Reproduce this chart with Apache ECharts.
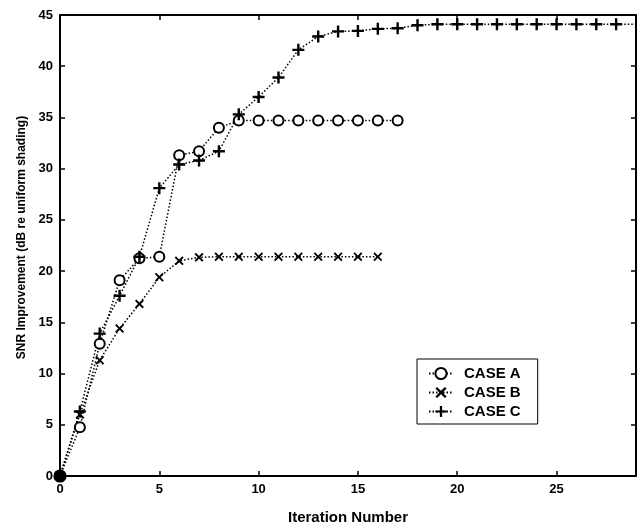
<!DOCTYPE html>
<html>
<head>
<meta charset="utf-8">
<script src="https://cdn.jsdelivr.net/npm/echarts@6/dist/echarts.min.js"></script>
<style>html,body{margin:0;padding:0;background:#fff}#c{width:640px;height:532px}</style>
</head>
<body>
<div id="c"></div>
<script>
var xTicks = [0, 5, 10, 15, 20, 25];
var yTicks = [0, 5, 10, 15, 20, 25, 30, 35, 40, 45];
var caseAIter = [0,1,2,3,4,5,6,7,8,9,10,11,12,13,14,15,16,17];
var caseA = [0, 4.75, 12.9, 19.1, 21.25, 21.4, 31.3, 31.7, 34.0, 34.7, 34.7, 34.7, 34.7, 34.7, 34.7, 34.7, 34.7, 34.7];
var caseBIter = [0,1,2,3,4,5,6,7,8,9,10,11,12,13,14,15,16];
var caseB = [0, 6.0, 11.3, 14.4, 16.8, 19.4, 21.0, 21.35, 21.4, 21.4, 21.4, 21.4, 21.4, 21.4, 21.4, 21.4, 21.4];
var caseCIter = [0,1,2,3,4,5,6,7,8,9,10,11,12,13,14,15,16,17,18,19,20,21,22,23,24,25,26,27,28,29];
var caseC = [0, 6.3, 13.9, 17.6, 21.4, 28.1, 30.4, 30.8, 31.7, 35.3, 37.0, 38.9, 41.6, 42.9, 43.4, 43.45, 43.65, 43.7, 44.0, 44.1, 44.1, 44.1, 44.1, 44.1, 44.1, 44.1, 44.1, 44.1, 44.1, 44.1];
var seriesNames = ['CASE A', 'CASE B', 'CASE C'];

var FONT = 'Liberation Sans';
var plusPath = 'path://M4,0 H6 V4 H10 V6 H6 V10 H4 V6 H0 V4 H4 Z';
var xPath = 'path://M0,1.5 L1.5,0 L5,3.5 L8.5,0 L10,1.5 L6.5,5 L10,8.5 L8.5,10 L5,6.5 L1.5,10 L0,8.5 L3.5,5 Z';

function pairs(xs, ys) { return xs.map(function (x, i) { return [x, ys[i]]; }); }

var dataA = pairs(caseAIter, caseA);
dataA[0] = { value: dataA[0], symbol: 'circle', symbolSize: 11, itemStyle: { color: '#000', borderColor: '#000' } };
var dataC = pairs(caseCIter, caseC);
dataC[dataC.length - 1] = { value: dataC[dataC.length - 1], symbol: 'none' };

var lineStyle = { color: '#000', width: 1.5, type: [1.5, 2] };
var axisCommon = {
  type: 'value', min: 0,
  axisLine: { show: true, onZero: false, lineStyle: { color: '#000', width: 2 } },
  axisTick: { show: true, inside: true, length: 5, lineStyle: { color: '#000', width: 1.5 } },
  splitLine: { show: false }
};
var labelStyle = { color: '#000', fontFamily: FONT, fontSize: 13, fontWeight: 'bold' };

var chart = echarts.init(document.getElementById('c'), null, { renderer: 'canvas' });
chart.setOption({
  animation: false,
  backgroundColor: '#fff',
  grid: { left: 60, right: 4, top: 15, bottom: 56, containLabel: false },
  legend: {
    orient: 'vertical', left: 417, top: 359,
    data: seriesNames,
    borderColor: '#000', borderWidth: 1, backgroundColor: '#fff',
    padding: [7, 17, 5, 11],
    itemWidth: 24, itemHeight: 14, itemGap: 4,
    textStyle: { color: '#000', fontFamily: FONT, fontSize: 15, fontWeight: 'bold', padding: [0, 0, 0, 6] }
  },
  xAxis: [
    Object.assign({}, axisCommon, {
      position: 'bottom', max: 29, interval: 5,
      axisLabel: Object.assign({ margin: 7, showMaxLabel: false, formatter: function (v) { return xTicks.indexOf(v) >= 0 ? String(v) : ''; } }, labelStyle),
      name: 'Iteration Number', nameLocation: 'middle', nameGap: 34,
      nameTextStyle: { color: '#000', fontFamily: FONT, fontSize: 15, fontWeight: 'bold' }
    }),
    Object.assign({}, axisCommon, {
      position: 'top', max: 29, interval: 5,
      axisLabel: { show: false }
    })
  ],
  yAxis: [
    Object.assign({}, axisCommon, {
      position: 'left', max: 45, interval: 5,
      axisLabel: Object.assign({ margin: 7, formatter: function (v) { return yTicks.indexOf(v) >= 0 ? String(v) : ''; } }, labelStyle),
      name: 'SNR Improvement (dB re uniform shading)', nameLocation: 'middle', nameGap: 24, nameRotate: 90,
      nameTextStyle: { color: '#000', fontFamily: FONT, fontSize: 12, fontWeight: 'bold', padding: [0, 0, 0, 16] }
    }),
    Object.assign({}, axisCommon, {
      position: 'right', max: 45, interval: 5,
      axisLabel: { show: false }
    })
  ],
  series: [
    {
      name: seriesNames[0], type: 'line', data: dataA,
      symbol: 'emptyCircle', symbolSize: 10,
      lineStyle: lineStyle,
      itemStyle: { color: '#000', borderColor: '#000', borderWidth: 2.2 },
      z: 3
    },
    {
      name: seriesNames[1], type: 'line', data: pairs(caseBIter, caseB),
      symbol: xPath, symbolSize: 9,
      lineStyle: lineStyle,
      itemStyle: { color: '#000', borderWidth: 0 },
      z: 3
    },
    {
      name: seriesNames[2], type: 'line', data: dataC,
      symbol: plusPath, symbolSize: 12,
      lineStyle: lineStyle,
      itemStyle: { color: '#000', borderWidth: 0 },
      z: 3
    }
  ]
});
</script>
</body>
</html>
